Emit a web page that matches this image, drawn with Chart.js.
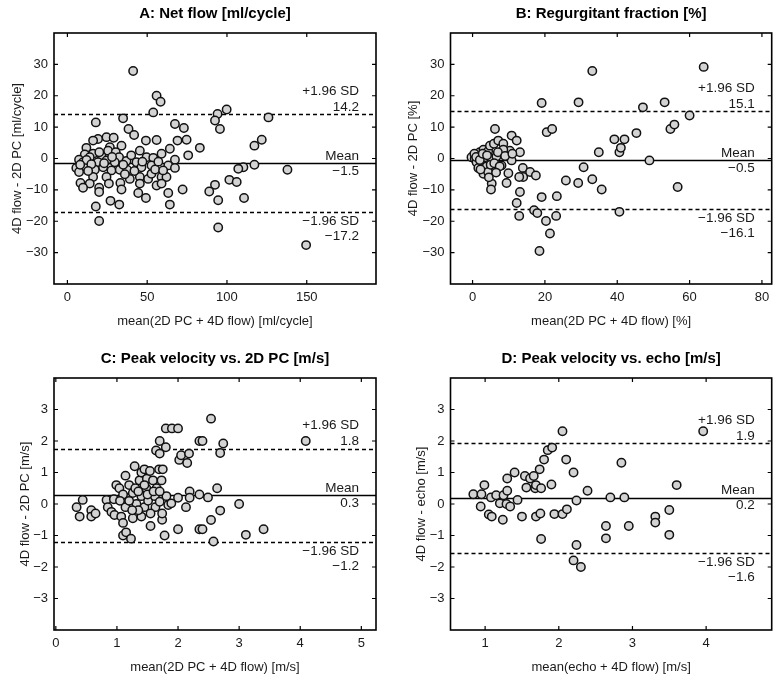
<html>
<head>
<meta charset="utf-8">
<title>Bland-Altman: 4D flow</title>
<script src="https://cdn.jsdelivr.net/npm/chart.js"></script>
<style>
  body { margin: 0; background: #fff; }
  #wrap { position: relative; width: 782px; height: 680px; }
  canvas { position: absolute; }
</style>
</head>
<body>
<div id="wrap">
  <canvas id="pa" width="391" height="340" style="left:0;top:0"></canvas>
  <canvas id="pb" width="391" height="340" style="left:391px;top:0"></canvas>
  <canvas id="pc" width="391" height="340" style="left:0;top:340px"></canvas>
  <canvas id="pd" width="391" height="340" style="left:391px;top:340px"></canvas>
</div>
<script>
// A: net flow [ml/cycle]
const aX = [41.2, 55.9, 58.4, 53.8, 34.9, 17.8, 67.4, 73, 38.3, 41.8, 74.7, 69, 55.9, 49.2, 24.5, 29, 19.2, 16.1, 11.9, 26.6,
  33.9, 45.4, 59, 64.2, 75.7, 83, 10.9, 16.1, 21.3, 25.5, 30.3, 32.4, 49.6, 53.8, 67.4, 7.3, 9.8, 14, 19.2, 24.5,
  29.7, 37, 43.3, 5.6, 7.3, 11.9, 17.2, 22.4, 27.6, 32.8, 37.4, 46.4, 52.7, 63.2, 67.4, 16.1, 24.5, 39.1, 45.4, 50.6,
  59, 62.1, 8.2, 14, 33.2, 45.4, 52.7, 55.9, 59, 9.8, 19.9, 33.9, 19.9, 44.4, 49.2, 63.2, 72.2, 27, 32.5, 64.2,
  17.8, 19.9, 99.8, 94.1, 92.5, 95.6, 126, 121.8, 117.2, 117.2, 110.3, 107.1, 137.9, 101.5, 106.1, 92.5, 88.9, 94.5, 110.7, 94.5,
  149.6, 12, 15, 20, 23, 28, 35, 40, 42, 47, 55, 57, 60, 13, 26, 36, 8];
const aY = [27.9, 20, 18.1, 14.7, 12.8, 11.5, 11, 9.7, 9.4, 7.5, 6, 5.7, 5.9, 5.7, 6.8, 6.6, 6.2, 5.7, 3.4, 3.6,
  4.1, 2.5, 1.5, 3.1, 1, 3.4, 1.3, 1.5, 1, 2.5, 2, 0.4, 0.4, 0.2, -0.4, -0.4, -1.2, 0.4, -1.2, -0.6,
  -1.2, -0.8, -1.2, -3, -4.3, -2.8, -3.6, -2.8, -3.8, -3.6, -3.6, -2.8, -2.2, -2.2, -3, -5.9, -5.9, -6.5, -5.9, -6.5,
  -5.9, -5.9, -7.8, -8, -7.8, -8, -4.9, -8.6, -8, -9.3, -9.3, -9.9, -10.7, -11, -12.6, -11, -9.9, -13.5, -14.7, -14.7,
  -15.3, -19.9, 15.6, 14.2, 12.1, 9.4, 13.1, 6, 4.1, -2, -2.8, -3.3, -3.6, -6.8, -7.5, -8.4, -10.5, -13.3, -12.6, -22,
  -27.6, -0.5, -1.8, 2, -1.5, 0.5, -2, 1, -4, -1, -3.5, -1, -3.8, -4, -8, -5, -2];
const aLimits = [14.2, -1.5, -17.2];

// B: regurgitant fraction [%]
const bX = [-0.3, 0.6, 1.6, 2, 3, 1.1, 2.5, 1.6, 3.4, 4.3, 4.8, 5.9, 7.1, 6.2, 8.5, 10.8, 12.2, 10.3, 8.5, 13.1,
  5.3, 6.6, 8, 10.8, 3.9, 3, 4.3, 5.3, 5.1, 9.4, 9.9, 13.1, 12.2, 12.9, 13.9, 14, 12.9, 15.9, 17.5, 17,
  17.9, 19.1, 20.3, 21.4, 18.5, 23.1, 23.3, 19.1, 20.5, 22, 25.8, 29.2, 30.7, 33.1, 29.3, 33.1, 34.9, 35.7, 39.2, 40.6,
  41, 42, 45.3, 47.1, 40.6, 48.9, 53.1, 54.7, 55.8, 56.7, 60, 63.9, 0.5, 1, 2, 2.8, 4, 5, 6, 7,
  7.5, 9, 11, 4.5, 6.5, 2.2];
const bY = [0.4, -0.1, 1, 2, 2.8, -1.2, -1.7, -3, 0.4, 2.3, 4.1, 4.7, 5.7, 9.4, 4.7, 7.3, 5.7, 2.5, 2.8, 2,
  -0.1, 0.6, -2.2, -0.6, -2.5, -4.9, -4.3, -8, -9.9, -7.8, -4.7, -10.7, -14.2, -18.3, -3, -5.9, -5.9, -4.3, -5.4, -16.5,
  -17.4, -12.3, -19.9, -23.9, -29.5, -18.3, -12, 17.7, 8.4, 9.4, -7, -7.8, -2.8, -6.6, 17.9, 27.9, 2, -9.9, 6.1, 2,
  3.4, 6.1, 8.1, 16.3, -17, -0.6, 17.9, 9.4, 10.8, -9.1, 13.7, 29.2, 1.5, 0.5, -0.5, 1.5, 1, -2, -1.5, 2,
  -2.5, 0.8, 1.5, -6, -4.5, -3.5];
const bLimits = [15.1, -0.5, -16.1];

// C: peak velocity vs. 2D PC [m/s]
const cX = [0.34, 0.39, 0.44, 0.58, 0.58, 0.65, 0.83, 0.85, 0.91, 0.95, 0.99, 1.04, 0.96, 1.07, 1.1, 1.1, 1.15, 1.23, 1.14, 1.2,
  1.29, 1.14, 1.15, 1.26, 1.26, 1.32, 1.37, 1.4, 1.4, 1.4, 1.45, 1.45, 1.48, 1.49, 1.51, 1.54, 1.55, 1.59, 1.62, 1.63,
  1.65, 1.69, 1.7, 1.74, 1.74, 1.78, 1.73, 1.75, 1.81, 1.84, 1.89, 1.64, 1.7, 1.7, 1.8, 1.8, 1.9, 2, 2, 2,
  2.02, 2.05, 2.15, 2.18, 2.19, 2.13, 2.19, 2.35, 2.35, 2.35, 2.54, 2.4, 2.74, 2.69, 2.64, 2.49, 3.0, 2.69, 2.54, 2.4,
  2.58, 3.11, 3.4, 4.09, 1.2, 1.3, 1.35, 1.5, 1.55, 1.6, 1.25, 1.1, 1.45, 1.7, 1.05, 1.35];
const cY = [-0.1, -0.4, 0.13, -0.2, -0.4, -0.3, 0.13, -0.1, -0.25, 0.15, 0.6, 0.5, -0.35, -0.4, -0.6, -1, -0.9, -1.1, 0.9, 0.6,
  1.2, -0.1, 0.2, 0.35, -0.45, 0, 0.75, 0.25, -0.4, 1, 1.1, -0.1, 0.5, 0.8, 0.1, 1.05, -0.7, 0.75, 0.25, -0.1,
  0.5, 1.1, 0.07, -0.5, -0.3, -1, 0.75, 1.1, 0.25, -0.03, 0.02, 1.7, 2, 1.6, 1.8, 2.4, 2.4, 2.4, -0.8, 0.2,
  1.4, 1.55, 1.3, 1.6, 0.4, -0.1, 0.2, 2, -0.8, 0.3, 2.71, 2, 1.92, 1.62, 0.5, 0.21, 0, -0.21, -0.51, -0.8,
  -1.19, -0.98, -0.8, 2, 0.1, 0.5, -0.2, 0.3, -0.3, 0.4, -0.2, 0.3, 0.6, 0.4, 0.1, 0.4];
const cLimits = [1.76, 0.28, -1.22];

// D: peak velocity vs. echo [m/s]
const dX = [0.84, 0.95, 0.99, 0.94, 1.05, 1.09, 1.08, 1.15, 1.2, 1.24, 1.25, 1.29, 1.3, 1.3, 1.34, 1.4, 1.44, 1.5, 1.54, 1.56,
  1.61, 1.66, 1.68, 1.69, 1.69, 1.74, 1.75, 1.76, 1.76, 1.8, 1.85, 1.91, 1.9, 1.94, 2.05, 2.05, 2.1, 2.11, 2.2, 2.24,
  2.2, 2.24, 2.3, 2.39, 2.7, 2.89, 2.85, 2.64, 2.64, 2.95, 3.31, 3.31, 3.5, 3.5, 3.6, 3.96];
const dY = [0.31, 0.31, 0.6, -0.08, -0.33, -0.4, 0.21, 0.28, 0.02, -0.5, 0.28, 0, 0.42, 0.81, -0.08, 1, 0.13, -0.4, 0.89, 0.52,
  0.81, 0.89, 0.5, 0.6, -0.4, 1.1, -0.3, 0.5, -1.11, 1.41, 1.71, 1.79, 0.62, -0.32, 2.31, -0.32, 1.41, -0.17, 1, 0.11,
  -1.79, -1.3, -2, 0.42, 0.21, 0.21, 1.31, -0.7, -1.09, -0.7, -0.4, -0.59, -0.19, -0.98, 0.6, 2.31];
const dLimits = [1.94, 0.2, -1.57];

const yTicksFlow = [-30, -20, -10, 0, 10, 20, 30];
const yTicksVel = [-3, -2, -1, 0, 1, 2, 3];

Chart.defaults.font.family = "'Liberation Sans', Arial, sans-serif";
Chart.defaults.font.size = 13;
Chart.defaults.color = '#1a1a1a';

const minus = v => String(v).replace('-', '\u2212');

// MATLAB-style box, inward ticks, limit lines and their labels
const blandPlugin = {
  id: 'bland',
  beforeDatasetsDraw(chart) {
    const o = chart.options.plugins.bland;
    const a = chart.chartArea, y = chart.scales.y, ctx = chart.ctx;
    ctx.save();
    ctx.strokeStyle = '#000';
    ctx.lineWidth = 1.4;
    o.limits.forEach((v, i) => {
      const py = Math.round(y.getPixelForValue(v)) + 0.5;
      ctx.setLineDash(i === 1 ? [] : [4, 3]);
      ctx.beginPath();
      ctx.moveTo(a.left, py);
      ctx.lineTo(a.right, py);
      ctx.stroke();
    });
    ctx.restore();
  },
  afterDraw(chart) {
    const o = chart.options.plugins.bland;
    const a = chart.chartArea, x = chart.scales.x, y = chart.scales.y, ctx = chart.ctx;
    ctx.save();
    ctx.strokeStyle = '#000';
    ctx.lineWidth = 1.6;
    ctx.setLineDash([]);
    ctx.strokeRect(a.left, a.top, a.right - a.left, a.bottom - a.top);
    ctx.lineWidth = 1.2;
    ctx.beginPath();
    x.ticks.forEach(t => {
      const px = x.getPixelForValue(t.value);
      ctx.moveTo(px, a.bottom); ctx.lineTo(px, a.bottom - 4);
      ctx.moveTo(px, a.top); ctx.lineTo(px, a.top + 4);
    });
    y.ticks.forEach(t => {
      const py = y.getPixelForValue(t.value);
      ctx.moveTo(a.left, py); ctx.lineTo(a.left + 4, py);
      ctx.moveTo(a.right, py); ctx.lineTo(a.right - 4, py);
    });
    ctx.stroke();

    // limit labels
    ctx.fillStyle = '#1a1a1a';
    ctx.font = "13.5px 'Liberation Sans', Arial, sans-serif";
    ctx.textAlign = 'right';
    ctx.textBaseline = 'middle';
    const rx = a.right - 17;
    const [up, mean, low] = o.limits.map(v => y.getPixelForValue(v));
    ctx.fillText('+1.96 SD', rx, up - 23);
    ctx.fillText(o.labels[0], rx, up - 7);
    ctx.fillText('Mean', rx, mean - 7);
    ctx.fillText(o.labels[1], rx, mean + 8);
    ctx.fillText('\u22121.96 SD', rx, low + 9);
    ctx.fillText(o.labels[2], rx, low + 24);

    // panel title
    ctx.font = "bold 15px 'Liberation Sans', Arial, sans-serif";
    ctx.textAlign = 'center';
    ctx.fillStyle = '#000';
    ctx.fillText(o.title, (a.left + a.right) / 2, a.top - 19);
    ctx.restore();
  }
};

function makePanel(id, xs, ys, cfg) {
  const pts = xs.map((v, i) => ({x: v, y: ys[i]}));
  return new Chart(document.getElementById(id), {
    type: 'scatter',
    data: {
      datasets: [{
        data: pts,
        pointRadius: 4.2,
        pointHoverRadius: 4.2,
        borderWidth: 1.5,
        backgroundColor: '#d3d3d3',
        borderColor: '#111'
      }]
    },
    options: {
      responsive: false,
      animation: false,
      events: [],
      layout: {padding: {left: 0, top: cfg.top, right: cfg.right, bottom: 0}},
      plugins: {
        legend: {display: false},
        tooltip: {enabled: false},
        bland: {
          limits: cfg.limits,
          labels: cfg.limits.map(v => minus(v.toFixed(1))),
          title: cfg.title
        }
      },
      scales: {
        x: {
          type: 'linear',
          min: cfg.xMin, max: cfg.xMax,
          afterBuildTicks: s => { s.ticks = cfg.xTicks.map(v => ({value: v})); },
          afterFit: s => { s.height = cfg.xh; },
          grid: {display: false, drawTicks: false},
          border: {display: false},
          ticks: {padding: 6, autoSkip: false, maxRotation: 0, callback: v => minus(v)},
          title: {display: true, text: cfg.xLabel, padding: {top: 0, bottom: cfg.xTitlePad}}
        },
        y: {
          type: 'linear',
          min: cfg.yMin, max: cfg.yMax,
          afterBuildTicks: s => { s.ticks = cfg.yTicks.map(v => ({value: v})); },
          afterFit: s => { s.width = cfg.yw; },
          grid: {display: false, drawTicks: false},
          border: {display: false},
          ticks: {padding: 6, autoSkip: false, callback: v => minus(v)},
          title: {display: true, text: cfg.yLabel, padding: {top: cfg.yTitlePad, bottom: 0}}
        }
      }
    },
    plugins: [blandPlugin]
  });
}

makePanel('pa', aX, aY, {
  title: 'A: Net flow [ml/cycle]', xLabel: 'mean(2D PC + 4D flow) [ml/cycle]', yLabel: '4D flow - 2D PC [ml/cycle]',
  xMin: -8.4, xMax: 193.4, xTicks: [0, 50, 100, 150], yMin: -40, yMax: 40, yTicks: yTicksFlow,
  limits: aLimits, top: 33, right: 15, yw: 54, xh: 56, xTitlePad: 11, yTitlePad: 10
});
makePanel('pb', bX, bY, {
  title: 'B: Regurgitant fraction [%]', xLabel: 'mean(2D PC + 4D flow) [%]', yLabel: '4D flow - 2D PC [%]',
  xMin: -6.1, xMax: 82.7, xTicks: [0, 20, 40, 60, 80], yMin: -40, yMax: 40, yTicks: yTicksFlow,
  limits: bLimits, top: 33, right: 10.3, yw: 59.5, xh: 56, xTitlePad: 11, yTitlePad: 15
});
makePanel('pc', cX, cY, {
  title: 'C: Peak velocity vs. 2D PC [m/s]', xLabel: 'mean(2D PC + 4D flow) [m/s]', yLabel: '4D flow - 2D PC [m/s]',
  xMin: -0.03, xMax: 5.24, xTicks: [0, 1, 2, 3, 4, 5], yMin: -4, yMax: 4, yTicks: yTicksVel,
  limits: cLimits, top: 38, right: 15, yw: 54, xh: 50, xTitlePad: 5, yTitlePad: 18
});
makePanel('pd', dX, dY, {
  title: 'D: Peak velocity vs. echo [m/s]', xLabel: 'mean(echo + 4D flow) [m/s]', yLabel: '4D flow - echo [m/s]',
  xMin: 0.53, xMax: 4.89, xTicks: [1, 2, 3, 4], yMin: -4, yMax: 4, yTicks: yTicksVel,
  limits: dLimits, top: 38, right: 10.3, yw: 59.5, xh: 50, xTitlePad: 5, yTitlePad: 23
});
</script>
</body>
</html>
